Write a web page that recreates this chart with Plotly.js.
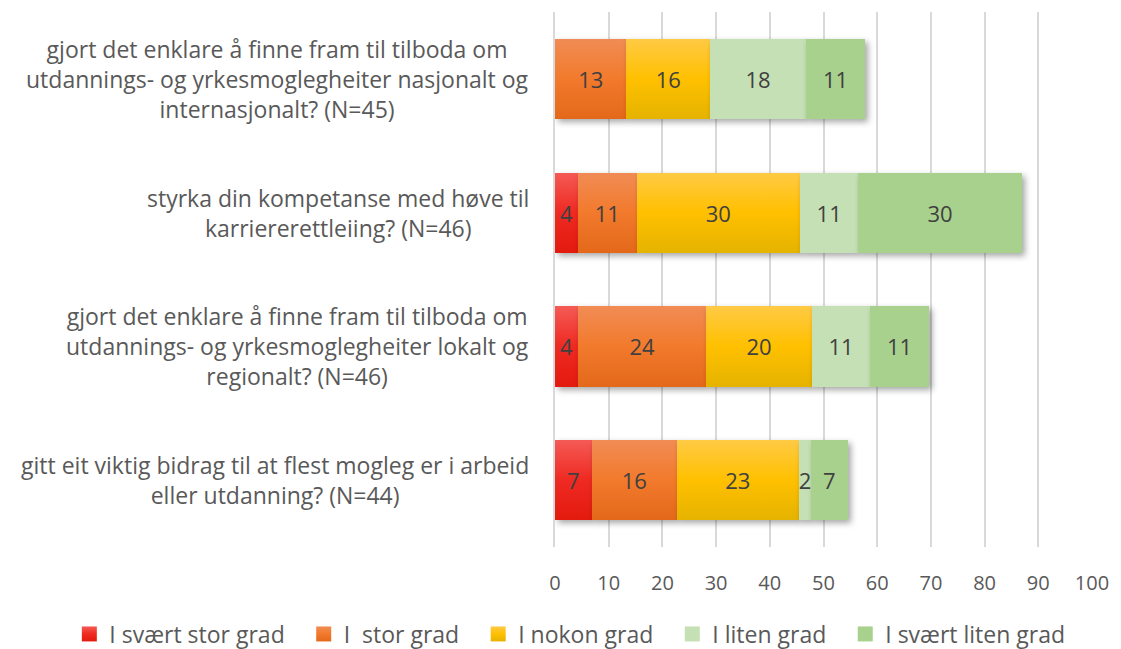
<!DOCTYPE html>
<html><head><meta charset="utf-8">
<script src="https://cdn.plot.ly/plotly-3.0.1.min.js"></script>
<style>
html,body{margin:0;padding:0;background:#fff;}
#chart{width:1121px;height:649px;}
.barlayer .point path{filter:drop-shadow(3px 3px 3px rgba(0,0,0,0.35));}
</style></head>
<body><div id="chart"></div>
<script>
const categories = [
  "gjort det enklare å finne fram til tilboda om<br>utdannings- og yrkesmoglegheiter nasjonalt og<br>internasjonalt? (N=45)",
  "styrka din kompetanse med høve til<br>karriererettleiing? (N=46)",
  "gjort det enklare å finne fram til tilboda om<br>utdannings- og yrkesmoglegheiter lokalt og<br>regionalt? (N=46)",
  "gitt eit viktig bidrag til at flest mogleg er i arbeid<br>eller utdanning? (N=44)"
];
const seriesNames = ["I svært stor grad", "I  stor grad", "I nokon grad", "I liten grad", "I svært liten grad"];
const svaertStor = [0, 4.3, 4.3, 6.8];
const stor = [13.3, 10.9, 23.9, 15.9];
const nokon = [15.6, 30.4, 19.6, 22.7];
const liten = [17.8, 10.9, 10.9, 2.3];
const svaertLiten = [11.1, 30.4, 10.9, 6.8];
const xTicks = [0,10,20,30,40,50,60,70,80,90,100];

const seriesValues = [svaertStor, stor, nokon, liten, svaertLiten];
const colors = ["#ee2a22", "#f27a2c", "#fcc10a", "#c5e0b4", "#a9d18e"];
const FONT = 'Open Sans, sans-serif';
const GREY = '#595959';
const LEGEND_EXTRA_GAP = 14;

const traces = seriesValues.map((vals, i) => ({
  type: 'bar',
  orientation: 'h',
  name: seriesNames[i],
  y: categories,
  x: vals,
  text: vals.map(v => v > 0 ? String(Math.round(v)) : ''),
  texttemplate: '%{text}',
  textposition: 'inside',
  insidetextanchor: 'middle',
  textangle: 0,
  insidetextfont: {size: 22, color: '#404040', family: FONT},
  constraintext: 'none',
  marker: {color: colors[i], line: {width: 0}},
  hoverinfo: 'none',
  cliponaxis: false
}));

const annotations = categories.map(c => ({
  xref: 'paper', yref: 'y', x: -0.044, y: c, text: c,
  showarrow: false, xanchor: 'right', yanchor: 'middle', align: 'center',
  font: {size: 23, color: GREY, family: FONT}
}));

const layout = {
  width: 1121, height: 649,
  barmode: 'stack',
  bargap: 0.4,
  margin: {l: 555, r: 29, t: 12, b: 102, autoexpand: false},
  paper_bgcolor: '#fff', plot_bgcolor: '#fff',
  font: {family: FONT, color: GREY},
  showlegend: true,
  legend: {orientation: 'h', xref: 'paper', yref: 'paper', x: -0.9044, xanchor: 'left', y: -0.1626, yanchor: 'middle',
           font: {size: 23, color: GREY, family: FONT}, itemwidth: 30, traceorder: 'normal', bgcolor: 'rgba(0,0,0,0)'},
  annotations: annotations,
  xaxis: {range: [0, 100], tickvals: xTicks, ticktext: xTicks.map(String), showgrid: true, gridcolor: '#d9d9d9', gridwidth: 2,
          zeroline: false, showline: false, tickfont: {size: 20, color: GREY, family: FONT}, ticks: 'outside', ticklen: 18, tickcolor: 'rgba(0,0,0,0)'},
  yaxis: {autorange: 'reversed', showgrid: false, zeroline: false, showline: true, linecolor: '#d9d9d9', linewidth: 2,
          showticklabels: false}
};

Plotly.newPlot('chart', traces, layout, {staticPlot: true}).then(gd => {
  const svg = gd.querySelector('svg.main-svg');
  const ns = 'http://www.w3.org/2000/svg';
  let defs = svg.querySelector('defs');
  if (!defs) { defs = document.createElementNS(ns, 'defs'); svg.insertBefore(defs, svg.firstChild); }
  const grads = [
    ['#f55a55', '#ee2a22', '#e31a0e'],
    ['#f18c55', '#f27a2c', '#e3681a'],
    ['#ffca45', '#ffc000', '#e5b300']
  ];
  grads.forEach((g, i) => {
    const lg = document.createElementNS(ns, 'linearGradient');
    lg.setAttribute('id', 'grad' + i);
    lg.setAttribute('x1', '0'); lg.setAttribute('y1', '0'); lg.setAttribute('x2', '0'); lg.setAttribute('y2', '1');
    [[0, g[0]], [0.5, g[1]], [1, g[2]]].forEach(([o, c]) => {
      const st = document.createElementNS(ns, 'stop');
      st.setAttribute('offset', o); st.setAttribute('stop-color', c);
      lg.appendChild(st);
    });
    defs.appendChild(lg);
  });
  gd.querySelectorAll('.barlayer .trace').forEach((t, i) => {
    if (i < 3) t.querySelectorAll('.point path').forEach(p => p.style.fill = 'url(#grad' + i + ')');
  });
  const sb = gd.querySelector('.legend .scrollbox');
  if (sb) sb.removeAttribute('clip-path');
  gd.querySelectorAll('.legend .traces').forEach((t, i) => {
    t.querySelectorAll('.legendpoints path').forEach(p => {
      p.setAttribute('d', 'M7.5,7.5H-7.5V-7.5H7.5Z');
      if (i < 3) p.style.fill = 'url(#grad' + i + ')';
    });
    const tr = t.getAttribute('transform') || '';
    const m = tr.match(/translate\(\s*([-\d.]+)[ ,]+([-\d.]+)\s*\)/);
    if (m) t.setAttribute('transform', 'translate(' + (parseFloat(m[1]) + i * LEGEND_EXTRA_GAP) + ',' + m[2] + ')');
  });
});
</script></body></html>
